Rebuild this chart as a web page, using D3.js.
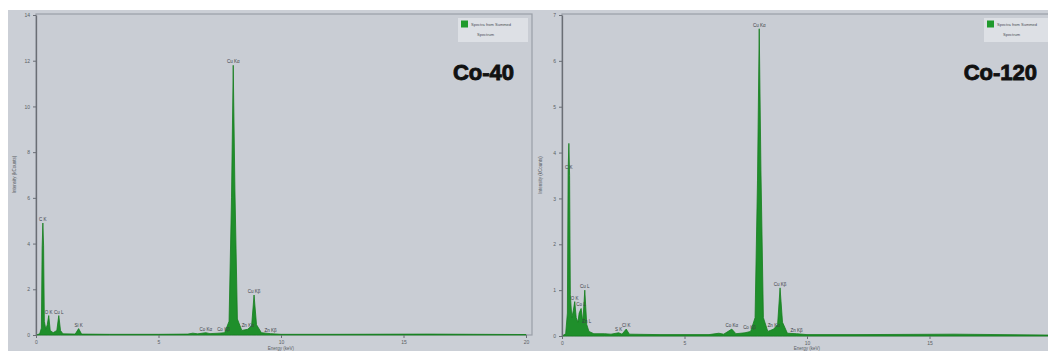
<!DOCTYPE html>
<html>
<head>
<meta charset="utf-8">
<script src="https://cdn.jsdelivr.net/npm/d3@7"></script>
<style>
  body { margin: 0; background: #fff; }
  svg { display: block; font-family: "Liberation Sans", Arial, sans-serif; }
  .tick text { fill: #5a5e64; font-size: 5px; }
  .tick line { stroke: #6a6e75; }
  .domain { stroke: #6a6e75; }
</style>
</head>
<body>
<div id="chart"></div>
<script>
// EDS spectra, energy in keV, intensity in kCounts
var co40Energy = [0, 0.15, 0.22, 0.25, 0.28, 0.31, 0.34, 0.4, 0.46, 0.52, 0.58, 0.7, 0.85, 0.93, 1.0, 1.1, 1.6, 1.74, 1.86, 3.0, 5.0, 6.2, 6.4, 6.6, 6.93, 7.1, 7.47, 7.7, 7.88, 7.98, 8.05, 8.12, 8.22, 8.4, 8.64, 8.8, 8.9, 9.0, 9.2, 9.57, 10, 12, 16, 20];
var co40Counts = [0, 0.05, 0.3, 3.8, 4.9, 3.9, 0.6, 0.25, 0.45, 0.85, 0.2, 0.1, 0.2, 0.85, 0.2, 0.05, 0.04, 0.28, 0.04, 0.03, 0.03, 0.04, 0.08, 0.05, 0.1, 0.06, 0.08, 0.1, 0.6, 6.0, 11.8, 6.3, 0.7, 0.2, 0.25, 0.4, 1.75, 0.45, 0.1, 0.06, 0.03, 0.03, 0.04, 0.02];
var co40LabelNames = ["C K", "O K", "Cu L", "Si K", "Co Kα", "Co Kβ", "Cu Kα", "Zn Kα", "Cu Kβ", "Zn Kβ"];
var co40LabelEnergy = [0.28, 0.52, 0.93, 1.74, 6.93, 7.65, 8.05, 8.64, 8.9, 9.57];
var co40LabelCounts = [4.9, 0.85, 0.85, 0.28, 0.1, 0.1, 11.8, 0.25, 1.75, 0.06];
var co40Ticks = [0, 5, 10, 15, 20];

var co120Energy = [0, 0.15, 0.22, 0.25, 0.28, 0.31, 0.34, 0.4, 0.46, 0.52, 0.58, 0.65, 0.7, 0.78, 0.85, 0.93, 1.01, 1.1, 1.3, 1.74, 2.0, 2.31, 2.45, 2.62, 2.75, 4.0, 6.0, 6.4, 6.6, 6.93, 7.1, 7.47, 7.7, 7.88, 7.98, 8.05, 8.12, 8.22, 8.4, 8.64, 8.8, 8.9, 9.0, 9.2, 9.57, 10, 12, 16, 20];
var co120Counts = [0, 0.05, 0.5, 3.6, 4.2, 3.5, 0.9, 0.4, 0.55, 0.75, 0.4, 0.3, 0.5, 0.6, 0.3, 1.0, 0.25, 0.1, 0.05, 0.05, 0.04, 0.07, 0.04, 0.15, 0.04, 0.03, 0.03, 0.06, 0.04, 0.15, 0.05, 0.07, 0.1, 0.4, 3.4, 6.7, 3.6, 0.4, 0.1, 0.15, 0.25, 1.05, 0.3, 0.06, 0.05, 0.03, 0.03, 0.04, 0.02];
var co120LabelNames = ["C K", "O K", "Co L", "Cu L", "Zn L", "S K", "Cl K", "Co Kα", "Co Kβ", "Cu Kα", "Zn Kα", "Cu Kβ", "Zn Kβ"];
var co120LabelEnergy = [0.28, 0.52, 0.78, 0.93, 1.01, 2.31, 2.62, 6.93, 7.65, 8.05, 8.64, 8.9, 9.57];
var co120LabelCounts = [3.6, 0.75, 0.6, 1.0, 0.25, 0.07, 0.15, 0.15, 0.1, 6.7, 0.15, 1.05, 0.05];
var co120Ticks = [0, 5, 10, 15];

var svgWidth = 1048;
var svgHeight = 351;

var svg = d3.select("#chart")
  .append("svg")
  .attr("width", svgWidth)
  .attr("height", svgHeight);

// grey backdrop of the screenshot
svg.append("rect")
  .attr("x", 8).attr("y", 10)
  .attr("width", svgWidth - 8).attr("height", svgHeight - 10)
  .attr("fill", "#cbcfd6");

function drawPanel(p) {
  var x = d3.scaleLinear().domain([0, 20]).range([p.left, p.left + 490]);
  var y = d3.scaleLinear().domain([0, p.yMax]).range([p.bottom, 15]);

  var g = svg.append("g");

  // plot frame
  g.append("rect")
    .attr("x", p.left).attr("y", 14)
    .attr("width", 496).attr("height", p.bottom - 14)
    .attr("fill", "#c9cdd4")
    .attr("stroke", "#9a9fa7")
    .attr("stroke-width", 1.2);

  var pts = p.energy.map(function(e, i) { return [e, p.counts[i]]; });

  var area = d3.area()
    .x(d => x(d[0]))
    .y0(y(0))
    .y1(d => y(d[1]));

  g.append("path")
    .datum(pts)
    .attr("d", area)
    .attr("fill", "#1f8f2b")
    .attr("stroke", "#157d1e")
    .attr("stroke-width", 0.8)
    .attr("stroke-linejoin", "round");

  // axes
  g.append("g")
    .attr("transform", `translate(0, ${p.bottom})`)
    .call(d3.axisBottom(x).tickValues(p.ticks).tickSize(3).tickPadding(2))
    .call(a => a.select(".domain").remove());

  g.append("g")
    .attr("transform", `translate(${p.left}, 0)`)
    .call(d3.axisLeft(y).ticks(7).tickSize(3).tickPadding(3).tickSizeOuter(0))
    .call(a => a.select(".domain").attr("stroke-width", 1.3));

  // peak labels
  g.selectAll(".peak")
    .data(p.labels)
    .enter()
    .append("text")
    .attr("x", (d, i) => x(p.labelEnergy[i]))
    .attr("y", (d, i) => y(p.labelCounts[i]) - 2)
    .attr("text-anchor", "middle")
    .attr("font-size", "4.5px")
    .attr("fill", "#3c4046")
    .text(d => d);

  // axis titles
  g.append("text")
    .attr("x", x(10))
    .attr("y", 350)
    .attr("text-anchor", "middle")
    .attr("font-size", "4.5px")
    .attr("fill", "#5a5e64")
    .text("Energy (keV)");

  g.append("text")
    .attr("transform", `translate(${p.left - 20}, ${(p.bottom + 14) / 2}) rotate(-90)`)
    .attr("text-anchor", "middle")
    .attr("font-size", "4.5px")
    .attr("fill", "#5a5e64")
    .text("Intensity (kCounts)");

  // legend
  var lx = p.left + 422;
  g.append("rect")
    .attr("x", lx).attr("y", 18)
    .attr("width", 70).attr("height", 24)
    .attr("fill", "#dde0e5");
  g.append("rect")
    .attr("x", lx + 3).attr("y", 20.5)
    .attr("width", 7).attr("height", 7)
    .attr("fill", "#1f9a2c");
  g.append("text")
    .attr("x", lx + 13).attr("y", 25.5)
    .attr("font-size", "4px")
    .attr("fill", "#4a4e54")
    .text("Spectra from Summed");
  g.append("text")
    .attr("x", lx + 19).attr("y", 36)
    .attr("font-size", "4px")
    .attr("fill", "#4a4e54")
    .text("Spectrum");

  // sample name
  g.append("text")
    .attr("x", p.titleX)
    .attr("y", 80)
    .attr("text-anchor", "end")
    .attr("font-size", "22px")
    .attr("font-weight", "bold")
    .attr("fill", "#111")
    .attr("stroke", "#111")
    .attr("stroke-width", 0.9)
    .text(p.title);
}

drawPanel({
  left: 36, bottom: 335, yMax: 14, ticks: co40Ticks,
  energy: co40Energy, counts: co40Counts,
  labels: co40LabelNames, labelEnergy: co40LabelEnergy, labelCounts: co40LabelCounts,
  title: "Co-40", titleX: 514
});

drawPanel({
  left: 562, bottom: 336, yMax: 7, ticks: co120Ticks,
  energy: co120Energy, counts: co120Counts,
  labels: co120LabelNames, labelEnergy: co120LabelEnergy, labelCounts: co120LabelCounts,
  title: "Co-120", titleX: 1037
});
</script>
</body>
</html>
